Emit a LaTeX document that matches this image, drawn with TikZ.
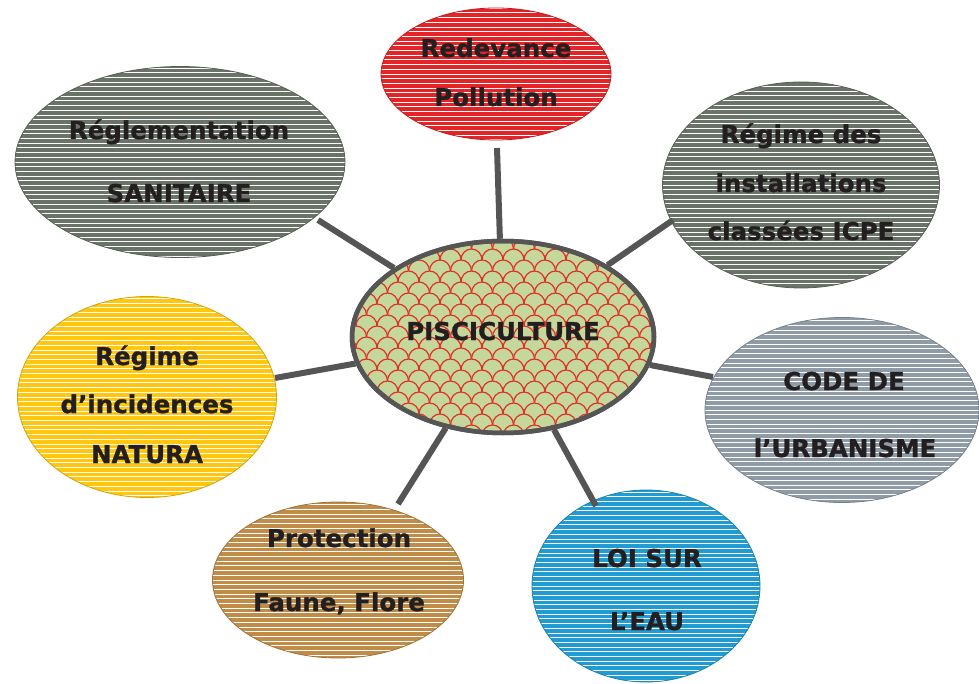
\documentclass[tikz,border=0pt]{standalone}
\usepackage{fontspec}
\setmainfont{DejaVu Sans}
\newfontfamily\lblfont[FakeBold=1.2]{DejaVu Sans Bold}
\usetikzlibrary{shapes.geometric}
\definecolor{cred}{RGB}{228,36,38}
\definecolor{cgg}{RGB}{106,115,104}
\definecolor{cbg}{RGB}{143,156,167}
\definecolor{cyel}{RGB}{255,200,15}
\definecolor{cbrn}{RGB}{192,140,72}
\definecolor{cblu}{RGB}{33,156,210}
\definecolor{cgrn}{RGB}{197,215,155}
\definecolor{cscale}{RGB}{222,50,40}
\definecolor{cline}{RGB}{85,85,85}
\definecolor{ctxt}{RGB}{35,31,32}
\tikzset{
  striped/.style={ellipse, inner sep=0pt, draw=#1!82!black, line width=0.8pt, fill=#1,
    path picture={\foreach \k in {-64,...,64}
      \draw[white,line width=0.9pt] ([shift={(-320pt,\k*4.7pt)}]path picture bounding box.center) -- ++(640pt,0pt);}},
  scaly/.style={ellipse, inner sep=0pt, fill=cgrn, draw=cline, line width=4.5pt,
    path picture={\begin{scope}[shift={(path picture bounding box.center)},rotate=-22]
      \foreach \j in {-14,...,14} \foreach \i in {-12,...,12}
        {\draw[cscale,line width=1.2pt] ({\i*21+mod(\j+40,2)*10.5-10.5},{\j*11}) arc[start angle=180,end angle=360,x radius=10.5,y radius=11];}
      \end{scope}}},
  lbl/.style={font=\lblfont\fontsize{24.5}{28}\selectfont, text=ctxt, anchor=base, inner sep=0pt},
  conn/.style={draw=cline, line width=6pt}
}
\begin{document}
\begin{tikzpicture}[x=1pt,y=-1pt]
\useasboundingbox (0,0) rectangle (979,684);
% outer ellipses
\node[striped=cred, minimum width=230pt, minimum height=132pt] (red) at (496,74) {};
\node[striped=cgg, minimum width=330pt, minimum height=191pt] (san) at (180,162) {};
\node[striped=cgg, minimum width=277pt, minimum height=206pt] (icpe) at (801,185) {};
\node[striped=cbg, minimum width=274pt, minimum height=185pt] (urb) at (842,410) {};
\node[striped=cyel, minimum width=259pt, minimum height=201pt] (nat) at (147,397) {};
\node[striped=cbrn, minimum width=251pt, minimum height=156pt] (pro) at (338,580) {};
\node[striped=cblu, minimum width=228pt, minimum height=192pt] (eau) at (646,586) {};
% centre
\node[scaly, minimum width=302pt, minimum height=192pt] (pisc) at (503,337) {};
% connector free ends
\coordinate (eRed) at (497,148);
\coordinate (eSan) at (318,220);
\coordinate (eIcpe) at (673,220);
\coordinate (eUrb) at (713,377);
\coordinate (eNat) at (275,378);
\coordinate (ePro) at (398,504);
\coordinate (eEau) at (596,506);
\foreach \e in {eRed,eSan,eIcpe,eUrb,eNat,ePro,eEau} \draw[conn] (pisc) -- (\e);
\draw[draw=cline, line width=4.5pt] (pisc.center) ellipse[x radius=151pt, y radius=96pt];
% labels
\node[lbl] (t1) at (496,57) {Redevance};
\node[lbl] (t2) at (496,106) {Pollution};
\node[lbl] (t3) at (179,139) {Réglementation};
\node[lbl] (t4) at (179,202) {SANITAIRE};
\node[lbl] (t5) at (801,143) {Régime des};
\node[lbl] (t6) at (801,192) {installations};
\node[lbl] (t7) at (801,240) {classées ICPE};
\node[lbl] (t8) at (503,340) {PISCICULTURE};
\node[lbl] (t9) at (844,390) {CODE DE};
\node[lbl] (t10) at (845,457) {l’URBANISME};
\node[lbl] (t11) at (147,365) {Régime};
\node[lbl] (t12) at (147,413) {d’incidences};
\node[lbl] (t13) at (147,463) {NATURA};
\node[lbl] (t14) at (339,547) {Protection};
\node[lbl] (t15) at (339,611) {Faune, Flore};
\node[lbl] (t16) at (647,567) {LOI SUR};
\node[lbl] (t17) at (647,630) {L’EAU};
\end{tikzpicture}
\end{document}
